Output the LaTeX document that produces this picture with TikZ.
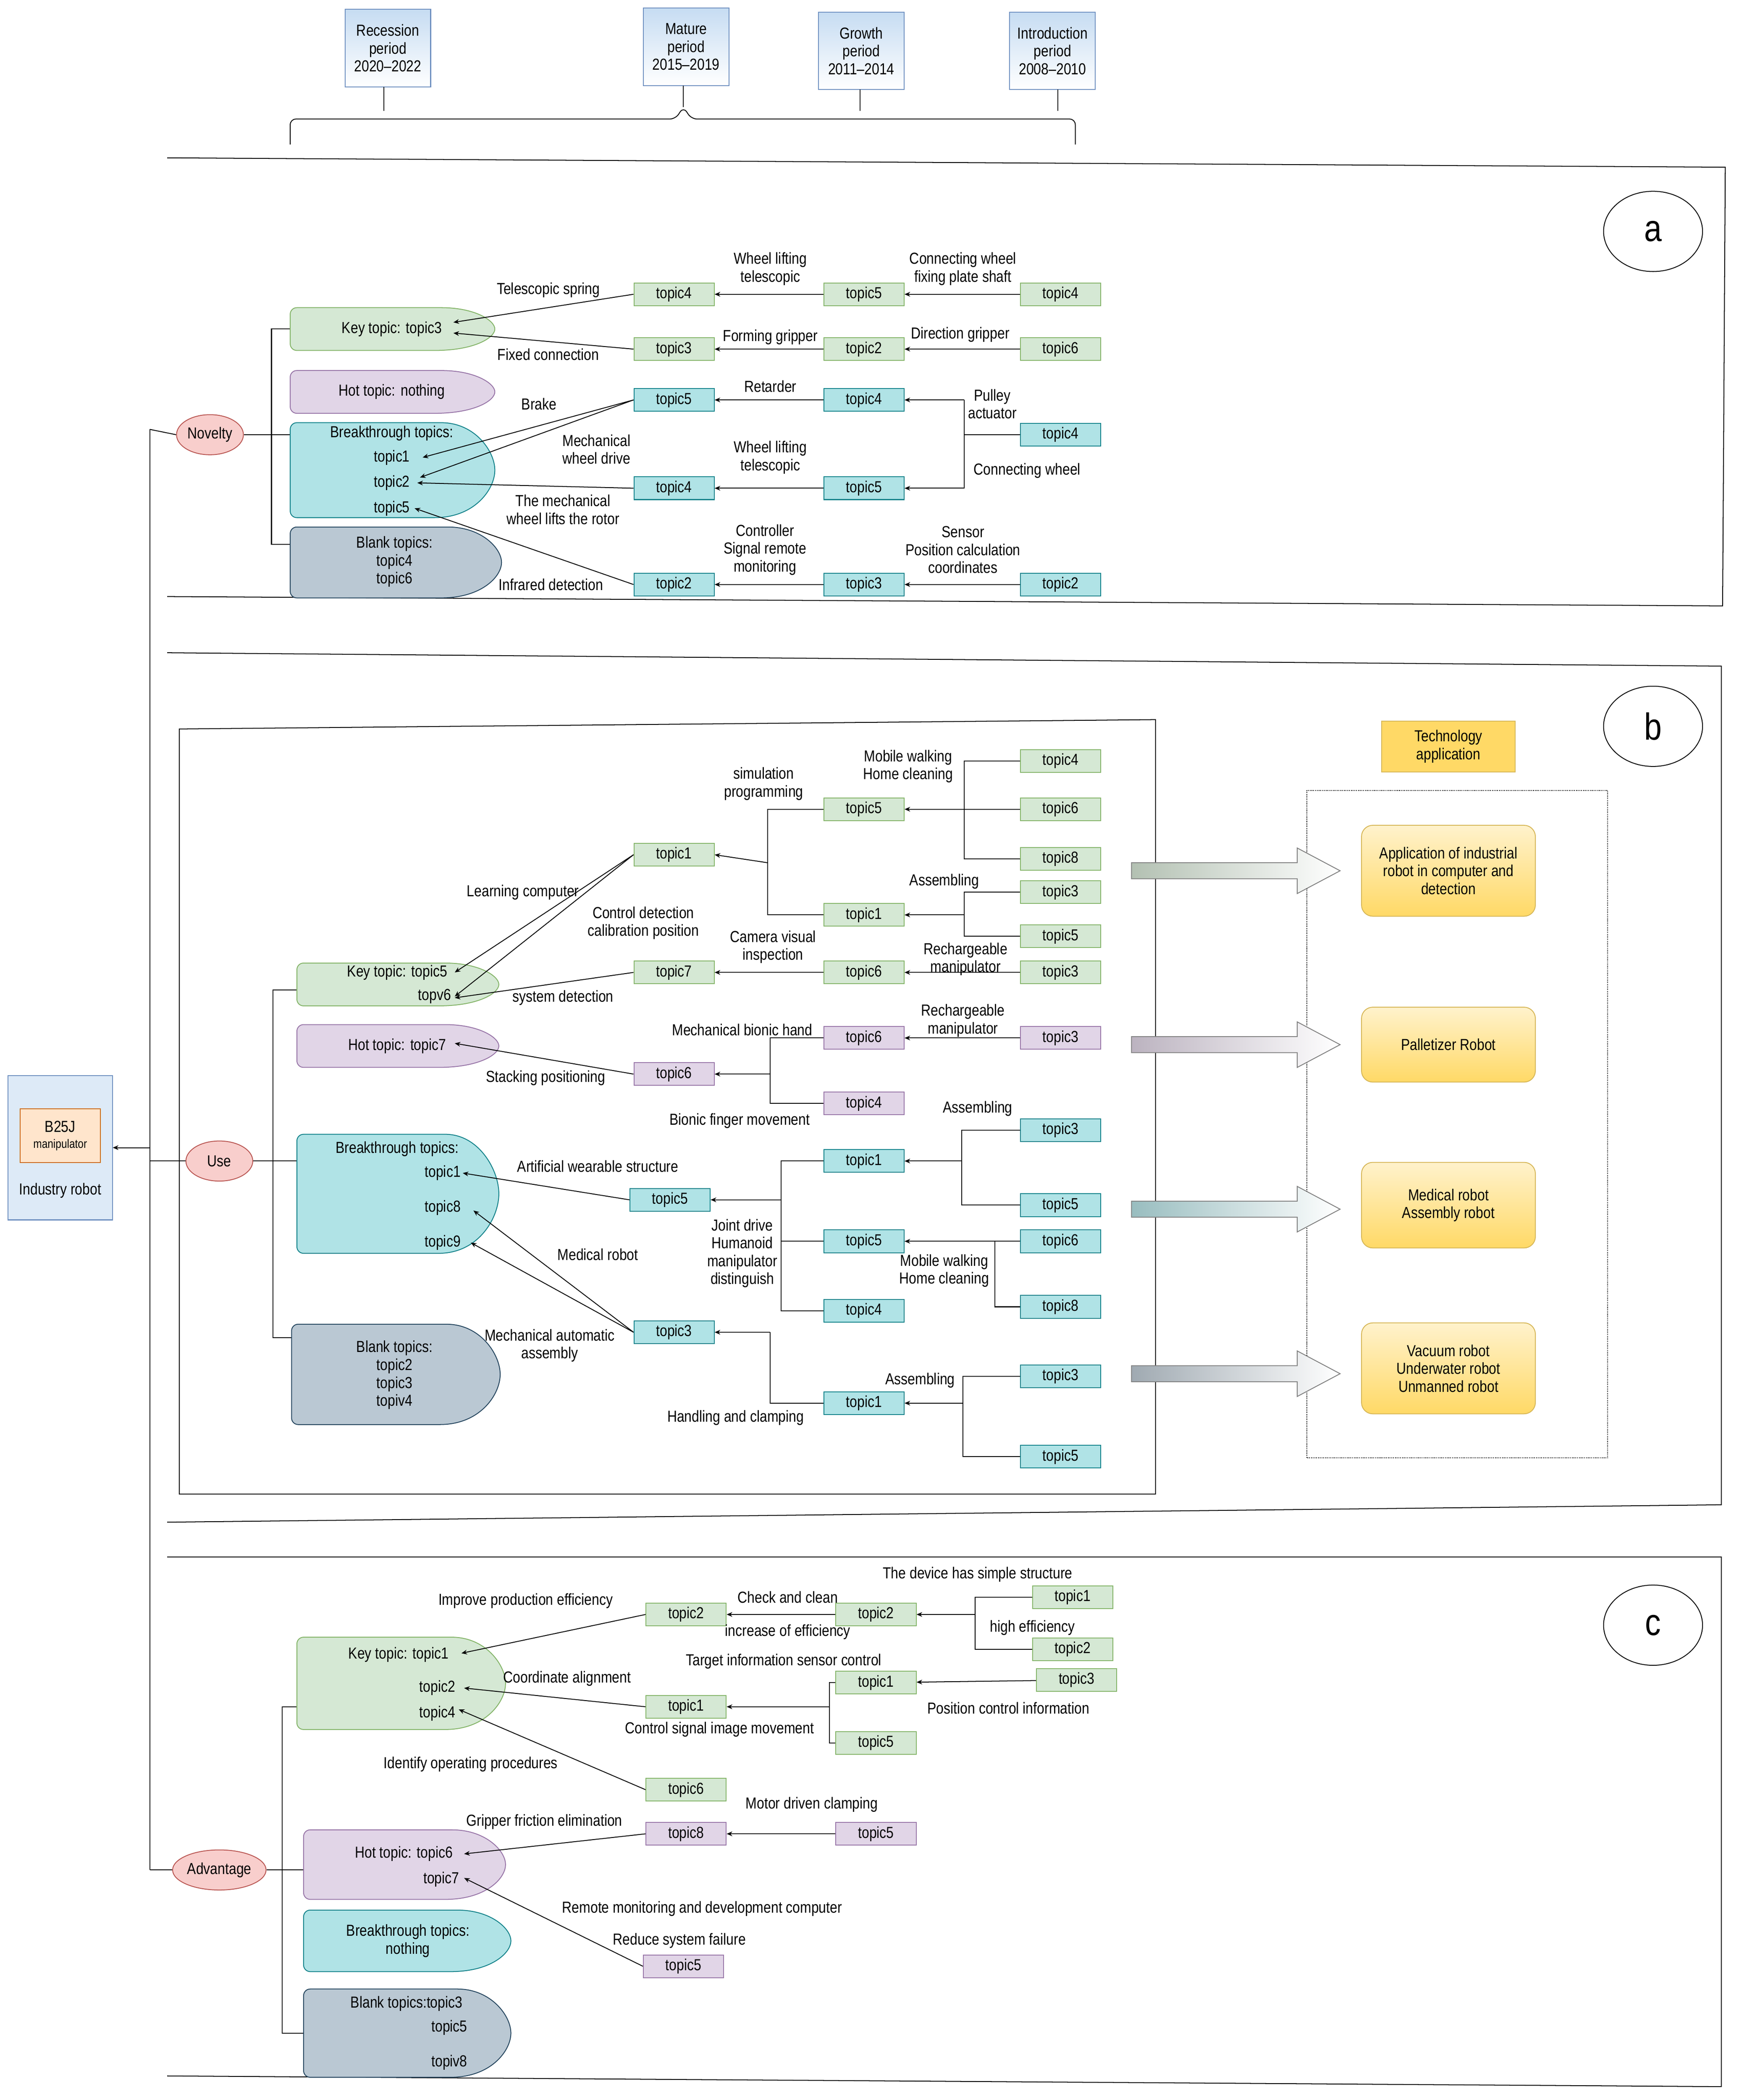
\documentclass[tikz,border=0pt]{standalone}
\usepackage{fontspec}
\setmainfont{Liberation Sans}[FakeStretch=0.84]
\usetikzlibrary{arrows.meta,shapes.geometric}
\definecolor{gf}{HTML}{D5E8D4}\definecolor{gd}{HTML}{82B366}
\definecolor{bf}{HTML}{B0E3E6}\definecolor{bd}{HTML}{0E8088}
\definecolor{pf}{HTML}{E1D5E7}\definecolor{pd}{HTML}{9673A6}
\definecolor{kf}{HTML}{BAC8D3}\definecolor{kd}{HTML}{23445D}
\definecolor{rf}{HTML}{F8CECC}\definecolor{rd}{HTML}{B85450}
\definecolor{yf}{HTML}{FFF2CC}\definecolor{yf2}{HTML}{FFD966}\definecolor{yd}{HTML}{D6B656}
\definecolor{hf}{HTML}{C6DCF2}\definecolor{hd}{HTML}{6C8EBF}
\newcommand\leafshape[5]{\draw[#5] ({#3-45},#2) .. controls ({#3-15},#2) and (#3,{#2+0.3*(#4-#2)}) .. (#3,{(#2+#4)/2}) .. controls (#3,{#4-0.3*(#4-#2)}) and ({#3-15},#4) .. ({#3-45},#4) [rounded corners=7] -- (#1,#4) -- (#1,#2) -- cycle;}
\begin{document}
\begin{tikzpicture}[x=0.5mm,y=-0.5mm,line width=0.9pt,
 every node/.style={font=\fontsize{17}{19}\selectfont,inner sep=1pt,align=center},
 bx/.style={draw,minimum width=30mm,minimum height=8.5mm,inner sep=0pt},
 gb/.style={bx,fill=gf,draw=gd},bb/.style={bx,fill=bf,draw=bd},pb/.style={bx,fill=pf,draw=pd},
 arr/.style={-{Stealth[length=6pt,width=5pt]}},
 hd/.style={draw=hd,top color=hf,bottom color=white,minimum width=32mm,minimum height=29mm},
 el/.style={draw=rd,fill=rf,ellipse,minimum width=25mm,minimum height=15mm},
 yb/.style={draw=yd,top color=yf,bottom color=yf2,rounded corners=12pt,minimum width=65mm,minimum height=#1},
 lbl/.style={}]
\useasboundingbox (0,0) rectangle (1300,1570);
% header
\node[hd] (h1) at (290,36) {Recession\\period\\2020--2022};
\node[hd] (h2) at (513,35) {Mature\\period\\2015--2019};
\node[hd] (h3) at (644,38) {Growth\\period\\2011--2014};
\node[hd] (h4) at (787,38) {Introduction\\period\\2008--2010};
\draw (217,108) -- (217,97) [rounded corners=6] -- (217,89) -- (505,89) -- (511,80) -- (517,89) -- (804,89) -- (804,108);
\draw (287,65) -- (287,83); \draw (511,64) -- (511,80); \draw (643,67) -- (643,83); \draw (791,67) -- (791,83);
% left
\node[draw=hd,fill=hf!60,minimum width=39mm,minimum height=54mm] (ir) at (45,858) {};
\node[draw=orange!80!black,fill=orange!20,minimum width=30mm,minimum height=20mm] (b25) at (45,849) {B25J\\[-2pt]{\fontsize{13}{15}\selectfont manipulator}};
\node (irt) at (45,890) {Industry robot};
\draw[arr] (112,858) -- (ir.east);
\draw (112,321) -- (112,1398);
\node[el] (nov) at (157,325) {Novelty};
\node[el] (use) at (164,868) {Use};
\node[el,minimum width=29mm] (adv) at (164,1398) {Advantage};
\draw (112,321) -- (nov.west); \draw (112,868) -- (use.west); \draw (112,1398) -- (adv.west);
%%%%%%%%%%%% panel a
\draw (125,118) -- (1290,125) -- (1288,453) -- (125,446);
\node[draw,ellipse,minimum width=37mm,minimum height=30mm,font=\fontsize{40}{40}\selectfont] (ca) at (1236,173) {a};
\draw (nov.east) -- (203,325); \draw (217,246) -| (203,407) -- (217,407); \draw (203,325) -- (217,325);
\leafshape{217}{230}{370}{262}{fill=gf,draw=gd}
\leafshape{217}{277}{370}{309}{fill=pf,draw=pd}
\leafshape{217}{316}{370}{387}{fill=bf,draw=bd}
\leafshape{217}{394}{375}{447}{fill=kf,draw=kd}
\node (ka) at (293,246) {Key topic:\,\,topic3};
\node (ha) at (293,293) {Hot topic:\,\,nothing};
\node (bra) at (293,324) {Breakthrough topics:}; \node (bra1) at (293,342) {topic1}; \node (bra2) at (293,361) {topic2}; \node (bra5) at (293,380) {topic5};
\node (bla) at (295,420) {Blank topics:\\topic4\\topic6};
\node[gb] (a11) at (504,220) {topic4}; \node[gb] (a12) at (504,261) {topic3};
\node[bb] (a13) at (504,299) {topic5}; \node[bb] (a14) at (504,365) {topic4}; \node[bb] (a15) at (504,437) {topic2};
\node[gb] (a21) at (646,220) {topic5}; \node[gb] (a22) at (646,261) {topic2};
\node[bb] (a23) at (646,299) {topic4}; \node[bb] (a24) at (646,365) {topic5}; \node[bb] (a25) at (646,437) {topic3};
\node[gb] (a31) at (793,220) {topic4}; \node[gb] (a32) at (793,261) {topic6};
\node[bb] (a33) at (793,325) {topic4}; \node[bb] (a35) at (793,437) {topic2};
\draw[arr] (a31) -- (a21); \draw[arr] (a21) -- (a11); \draw[arr] (a32) -- (a22); \draw[arr] (a22) -- (a12);
\draw (a33.west) -- (721,325); \draw[arr] (721,299) |- (a24.east); \draw[arr] (721,299) -- (a23.east);
\draw[arr] (a23) -- (a13); \draw[arr] (a24) -- (a14); \draw[arr] (a35) -- (a25); \draw[arr] (a25) -- (a15);
\draw[arr] (a11.west) -- (339,241); \draw[arr] (a12.west) -- (339,249);
\draw[arr] (a13.west) -- (316,342); \draw[arr] (a13.west) -- (314,357);
\draw[arr] (a14.west) -- (312,361); \draw[arr] (a15.west) -- (310,380);
\node (la1) at (720,201) {Connecting wheel\\fixing plate shaft};
\node (la2) at (576,201) {Wheel lifting\\telescopic};
\node (la3) at (718,250) {Direction gripper}; \node (la4) at (576,252) {Forming gripper};
\node (la5) at (742,302) {Pulley\\actuator}; \node (la6) at (768,352) {Connecting wheel};
\node (la7) at (576,289) {Retarder}; \node (la8) at (576,342) {Wheel lifting\\telescopic};
\node (la9) at (720,411) {Sensor\\Position calculation\\coordinates};
\node (la10) at (572,411) {Controller\\Signal remote\\monitoring};
\node (la11) at (410,217) {Telescopic spring}; \node (la12) at (410,265) {Fixed connection};
\node (la13) at (403,302) {Brake}; \node (la14) at (446,336) {Mechanical\\wheel drive};
\node (la15) at (421,381) {The mechanical\\wheel lifts the rotor}; \node (la16) at (412,437) {Infrared detection};
%%%%%%%%%%%% panel b
\draw (125,488) -- (1287,498) -- (1287,1125) -- (125,1138);
\draw (134,545) -- (864,538) -- (864,1117) -- (134,1117) -- cycle;
\node[draw,ellipse,minimum width=37mm,minimum height=30mm,font=\fontsize{40}{40}\selectfont] (cb) at (1236,543) {b};
\draw[densely dotted] (977,591) rectangle (1202,1090);
\node[draw=yd,fill=yf2,minimum width=50mm,minimum height=19mm] (ta) at (1083,558) {Technology\\application};
\node[yb=34mm] (y1) at (1083,651) {Application of industrial\\robot in computer and\\detection};
\node[yb=28mm] (y2) at (1083,781) {Palletizer Robot};
\node[yb=32mm] (y3) at (1083,901) {Medical robot\\Assembly robot};
\node[yb=34mm] (y4) at (1083,1023) {Vacuum robot\\Underwater robot\\Unmanned robot};
\foreach \yy/\cc in {651/gf,781/pf,904/bf,1027/kf}{
 \draw[draw=gray,left color=\cc!80!black!90,right color=white] (846,\yy-6) -- (970,\yy-6) -- (970,\yy-17) -- (1002,\yy) -- (970,\yy+17) -- (970,\yy+6) -- (846,\yy+6) -- cycle;}
\draw (use.east) -- (204,868); \draw (222,740) -| (204,1000) -- (218,1000); \draw (204,868) -- (222,868);
\leafshape{222}{720}{373}{752}{fill=gf,draw=gd}
\leafshape{222}{766}{373}{798}{fill=pf,draw=pd}
\leafshape{222}{848}{373}{937}{fill=bf,draw=bd}
\leafshape{218}{990}{374}{1065}{fill=kf,draw=kd}
\node (kb) at (297,727) {Key topic:\,\,topic5}; \node (kb2) at (325,745) {topv6};
\node (hb) at (297,782) {Hot topic:\,\,topic7};
\node (brb) at (297,859) {Breakthrough topics:}; \node (brb1) at (331,877) {topic1}; \node (brb8) at (331,903) {topic8}; \node (brb9) at (331,929) {topic9};
\node (blb) at (295,1028) {Blank topics:\\topic2\\topic3\\topiv4};
\node[gb] (b11) at (504,639) {topic1}; \node[gb] (b12) at (504,727) {topic7};
\node[gb] (b21) at (646,605) {topic5}; \node[gb] (b22) at (646,684) {topic1}; \node[gb] (b23) at (646,727) {topic6};
\node[gb] (b31) at (793,569) {topic4}; \node[gb] (b32) at (793,605) {topic6}; \node[gb] (b33) at (793,642) {topic8};
\node[gb] (b34) at (793,667) {topic3}; \node[gb] (b35) at (793,700) {topic5}; \node[gb] (b36) at (793,727) {topic3};
\node[pb] (b13) at (504,803) {topic6}; \node[pb] (b24) at (646,776) {topic6}; \node[pb] (b25) at (646,825) {topic4}; \node[pb] (b37) at (793,776) {topic3};
\node[bb] (b14) at (501,897) {topic5}; \node[bb] (b15) at (504,996) {topic3};
\node[bb] (b26) at (646,868) {topic1}; \node[bb] (b27) at (646,928) {topic5}; \node[bb] (b28) at (646,980) {topic4}; \node[bb] (b29) at (646,1049) {topic1};
\node[bb] (b38) at (793,845) {topic3}; \node[bb] (b39) at (793,901) {topic5}; \node[bb] (b310) at (793,928) {topic6};
\node[bb] (b311) at (793,977) {topic8}; \node[bb] (b312) at (793,1029) {topic3}; \node[bb] (b313) at (793,1089) {topic5};
\draw (b31.west) -| (721,642) -- (b33.west); \draw (b32.west) -- (721,605); \draw[arr] (721,605) -- (b21.east);
\draw (b34.west) -| (721,700) -- (b35.west); \draw[arr] (721,684) -- (b22.east);
\draw[arr] (b36) -- (b23);
\draw (b21.west) -| (574,684) -- (b22.west); \draw[arr] (574,645) -- (b11.east);
\draw[arr] (b23) -- (b12);
\draw[arr] (b11.west) -- (340,727); \draw[arr] (b11.west) -- (340,745);
\draw[arr] (b12.west) -- (340,746);
\draw[arr] (b37) -- (b24);
\draw (b24.west) -| (576,825) -- (b25.west); \draw[arr] (576,803) -- (b13.east);
\draw[arr] (b13.west) -- (340,780);
\draw (b38.west) -| (719,901) -- (b39.west); \draw[arr] (719,868) -- (b26.east);
\draw[arr] (b310) -- (b27); \draw (744,928) |- (b311.west);
\draw (b26.west) -| (584,980) -- (b28.west); \draw (b27.west) -- (584,928); \draw[arr] (584,897) -- (b14.east);
\draw[arr] (b14.west) -- (346,877);
\draw[arr] (b15.west) -- (354,905); \draw[arr] (b15.west) -- (352,929);
\draw (b312.west) -| (720,1089) -- (b313.west); \draw[arr] (720,1049) -- (b29.east);
\draw (b29.west) -| (576,996); \draw[arr] (576,996) -- (b15.east);
\node (lb1) at (679,573) {Mobile walking\\Home cleaning}; \node (lb2) at (706,659) {Assembling};
\node (lb3) at (722,717) {Rechargeable\\manipulator}; \node (lb4) at (571,586) {simulation\\programming};
\node (lb5) at (578,708) {Camera visual\\inspection}; \node (lb6) at (391,667) {Learning computer};
\node (lb7) at (481,690) {Control detection\\calibration position}; \node (lb8) at (421,746) {system detection};
\node (lb9) at (720,763) {Rechargeable\\manipulator}; \node (lb10) at (555,770) {Mechanical bionic hand};
\node (lb11) at (553,838) {Bionic finger movement}; \node (lb12) at (408,806) {Stacking positioning};
\node (lb13) at (731,829) {Assembling}; \node (lb14) at (706,950) {Mobile walking\\Home cleaning};
\node (lb15) at (555,937) {Joint drive\\Humanoid\\manipulator\\distinguish};
\node (lb16) at (447,872) {Artificial wearable structure}; \node (lb17) at (447,938) {Medical robot};
\node (lb18) at (688,1032) {Assembling}; \node (lb19) at (550,1060) {Handling and clamping};
\node (lb20) at (411,1006) {Mechanical automatic\\assembly};
%%%%%%%%%%%% panel c
\draw (125,1164) -- (1287,1164) -- (1287,1560) -- (125,1552);
\node[draw,ellipse,minimum width=37mm,minimum height=30mm,font=\fontsize{40}{40}\selectfont] (cc) at (1236,1215) {c};
\draw (adv.east) -- (211,1398); \draw (222,1276) -| (211,1520) -- (227,1520); \draw (211,1398) -- (227,1398);
\leafshape{222}{1224}{378}{1293}{fill=gf,draw=gd}
\leafshape{227}{1368}{378}{1420}{fill=pf,draw=pd}
\leafshape{227}{1428}{382}{1474}{fill=bf,draw=bd}
\leafshape{227}{1487}{382}{1553}{fill=kf,draw=kd}
\node (kc) at (298,1237) {Key topic:\,\,topic1}; \node (kc2) at (327,1262) {topic2}; \node (kc4) at (327,1281) {topic4};
\node (hc) at (302,1386) {Hot topic:\,\,topic6}; \node (hc7) at (330,1405) {topic7};
\node (brc) at (305,1451) {Breakthrough topics:\\nothing};
\node (blc) at (304,1498) {Blank topics:topic3}; \node (blc5) at (336,1516) {topic5}; \node (blc8) at (336,1542) {topiv8};
\node[gb] (c11) at (513,1207) {topic2}; \node[gb] (c12) at (513,1276) {topic1}; \node[gb] (c13) at (513,1338) {topic6};
\node[gb] (c21) at (655,1207) {topic2}; \node[gb] (c22) at (655,1258) {topic1}; \node[gb] (c23) at (655,1303) {topic5};
\node[gb] (c31) at (802,1194) {topic1}; \node[gb] (c32) at (802,1233) {topic2}; \node[gb] (c33) at (805,1256) {topic3};
\node[pb] (c14) at (513,1371) {topic8}; \node[pb] (c24) at (655,1371) {topic5}; \node[pb] (c15) at (511,1470) {topic5};
\draw (c31.west) -| (729,1233) -- (c32.west); \draw[arr] (729,1207) -- (c21.east);
\draw[arr] (c33) -- (c22);
\draw[arr] (c21) -- (c11);
\draw (c22.west) -| (620,1303) -- (c23.west); \draw[arr] (620,1276) -- (c12.east);
\draw[arr] (c11.west) -- (345,1236); \draw[arr] (c12.west) -- (347,1262); \draw[arr] (c13.west) -- (343,1278);
\draw[arr] (c24) -- (c14); \draw[arr] (c14.west) -- (347,1386); \draw[arr] (c15.west) -- (347,1404);
\node (lc1) at (731,1177) {The device has simple structure}; \node (lc2) at (772,1217) {high efficiency};
\node (lc3) at (754,1277) {Position control information}; \node (lc4) at (589,1194) {Check and clean};
\node (lc5) at (589,1220) {increase of efficiency}; \node (lc6) at (586,1242) {Target information sensor control};
\node (lc7) at (538,1293) {Control signal image movement}; \node (lc8) at (393,1197) {Improve production efficiency};
\node (lc9) at (424,1255) {Coordinate alignment}; \node (lc10) at (352,1319) {Identify operating procedures};
\node (lc11) at (607,1349) {Motor driven clamping}; \node (lc12) at (407,1362) {Gripper friction elimination};
\node (lc13) at (525,1427) {Remote monitoring and development computer}; \node (lc14) at (508,1451) {Reduce system failure};
\end{tikzpicture}
\end{document}
